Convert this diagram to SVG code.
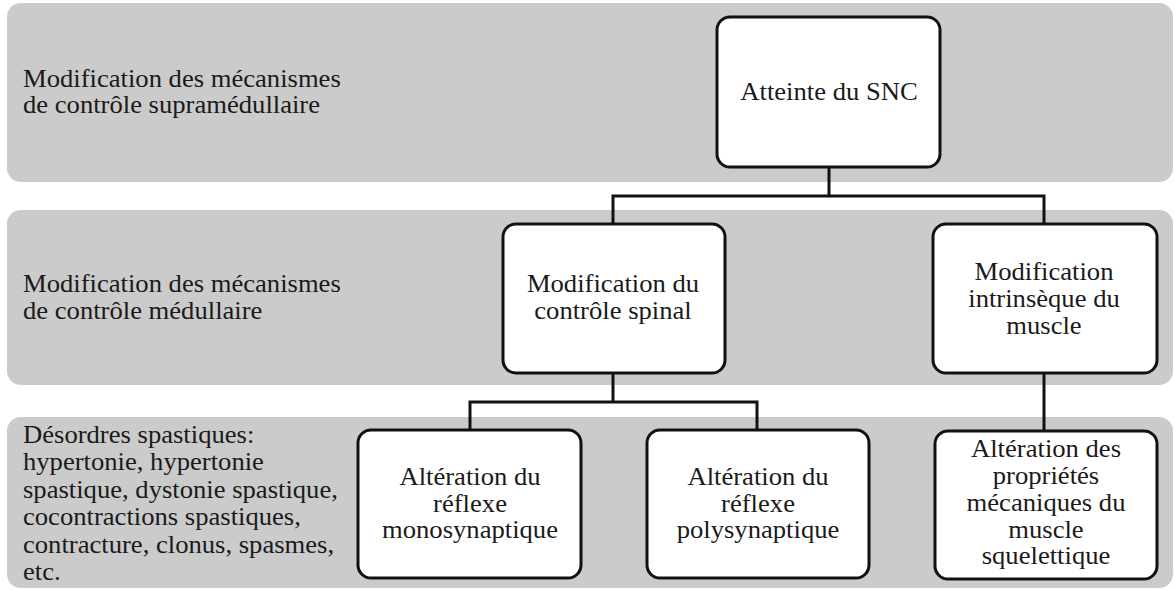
<svg xmlns="http://www.w3.org/2000/svg" width="1175" height="590" viewBox="0 0 1175 590">
<style>
.band{fill:#cbcbcb;}
.box{fill:#ffffff;stroke:#111;stroke-width:3;}
.t{font-family:"Liberation Serif","Times New Roman",serif;font-size:25px;fill:#1a1a1a;}
.c{text-anchor:middle;}
.conn{fill:none;stroke:#111;stroke-width:3;stroke-linejoin:miter;}
</style>
<rect width="1175" height="590" fill="#ffffff"/>
<g id="bands">
<g id="band1"><rect class="band" x="7" y="3" width="1166" height="179" rx="14"/>
<text class="t" transform="translate(23,0) scale(1.065,1)"><tspan x="0" y="87">Modification des mécanismes</tspan><tspan x="0" y="113">de contrôle supramédullaire</tspan></text></g>
<g id="band2"><rect class="band" x="7" y="210" width="1166" height="175" rx="14"/>
<text class="t" transform="translate(23,0) scale(1.065,1)"><tspan x="0" y="292">Modification des mécanismes</tspan><tspan x="0" y="319">de contrôle médullaire</tspan></text></g>
<g id="band3"><rect class="band" x="7" y="417" width="1166" height="171" rx="14"/>
<text class="t" transform="translate(23,0) scale(1.065,1)"><tspan x="0" y="443">Désordres spastiques:</tspan><tspan x="0" y="470.5">hypertonie, hypertonie</tspan><tspan x="0" y="498">spastique, dystonie spastique,</tspan><tspan x="0" y="525.5">cocontractions spastiques,</tspan><tspan x="0" y="553">contracture, clonus, spasmes,</tspan><tspan x="0" y="580.5">etc.</tspan></text></g>
</g>
<g id="connectors">
<path class="conn" d="M829 167V196M613 224V196H1044V224"/>
<path class="conn" d="M613 373V402M470 430V402H757V430"/>
<path class="conn" d="M1044 373V431"/>
</g>
<g id="n-snc"><rect class="box" x="717" y="17" width="223" height="150" rx="13"/>
<text class="t c" transform="translate(829,0) scale(1.065,1)"><tspan x="0" y="100">Atteinte du SNC</tspan></text></g>
<g id="n-spinal"><rect class="box" x="503" y="224" width="222" height="149" rx="13"/>
<text class="t c" transform="translate(613,0) scale(1.065,1)"><tspan x="0" y="292">Modification du</tspan><tspan x="0" y="319">contrôle spinal</tspan></text></g>
<g id="n-muscle"><rect class="box" x="933" y="224" width="224" height="149" rx="13"/>
<text class="t c" transform="translate(1044,0) scale(1.065,1)"><tspan x="0" y="280">Modification</tspan><tspan x="0" y="307">intrinsèque du</tspan><tspan x="0" y="334">muscle</tspan></text></g>
<g id="n-mono"><rect class="box" x="358" y="430" width="223" height="148" rx="13"/>
<text class="t c" transform="translate(470,0) scale(1.065,1)"><tspan x="0" y="485">Altération du</tspan><tspan x="0" y="512">réflexe</tspan><tspan x="0" y="538">monosynaptique</tspan></text></g>
<g id="n-poly"><rect class="box" x="647" y="430" width="222" height="148" rx="13"/>
<text class="t c" transform="translate(758,0) scale(1.065,1)"><tspan x="0" y="485">Altération du</tspan><tspan x="0" y="512">réflexe</tspan><tspan x="0" y="538">polysynaptique</tspan></text></g>
<g id="n-meca"><rect class="box" x="935" y="431" width="222" height="148" rx="13"/>
<text class="t c" transform="translate(1046,0) scale(1.065,1)"><tspan x="0" y="457">Altération des</tspan><tspan x="0" y="484">propriétés</tspan><tspan x="0" y="511">mécaniques du</tspan><tspan x="0" y="538">muscle</tspan><tspan x="0" y="564">squelettique</tspan></text></g>
</svg>
